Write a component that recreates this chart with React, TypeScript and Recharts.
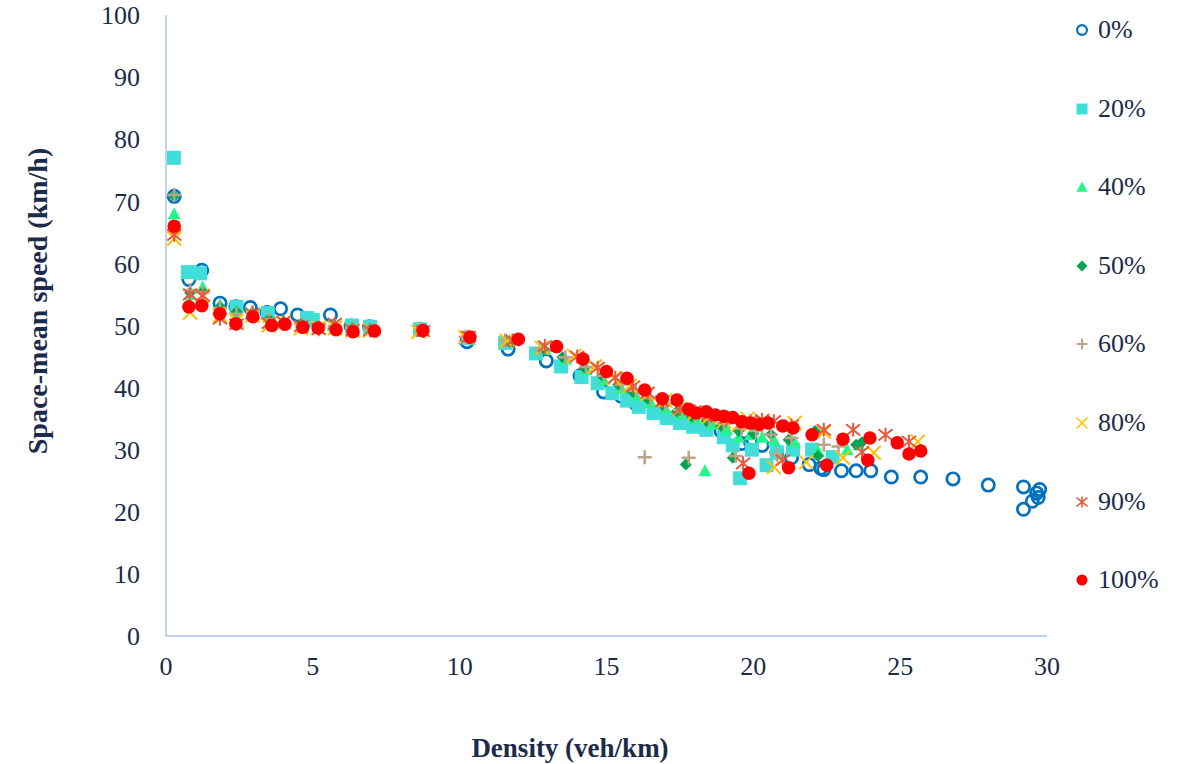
import React from 'react';
import { ScatterChart, Scatter, XAxis, YAxis, Label } from 'recharts';

type Pt = [number, number];

const xTicks = [0, 5, 10, 15, 20, 25, 30];
const yTicks = [0, 10, 20, 30, 40, 50, 60, 70, 80, 90, 100];

// density (veh/km), speed (km/h)
const pen0: Pt[] = [
  [0.28, 70.8], [0.78, 57.4], [1.22, 58.9], [1.84, 53.6], [2.38, 53], [2.87, 52.9], [3.44, 52.1],
  [3.9, 52.7], [4.48, 51.7], [5.6, 51.7], [6.3, 49.9], [6.93, 49.8], [8.7, 49.3], [10.25, 47.4],
  [11.65, 46.2], [12.95, 44.3], [14.1, 41.9], [14.9, 39.3], [15.5, 38.6], [16.0, 37.4], [16.8, 36],
  [17.5, 35], [18.2, 34], [18.9, 33], [19.6, 31], [19.9, 31.3], [20.3, 30.7], [20.8, 29.6],
  [21.3, 28.7], [21.9, 27.6], [22.3, 27], [22.4, 26.8], [23.0, 26.6], [23.5, 26.6], [24.0, 26.6],
  [24.7, 25.6], [25.7, 25.6], [26.8, 25.3], [28.0, 24.3], [29.2, 24.0], [29.75, 23.6], [29.7, 22.3],
  [29.5, 21.7], [29.2, 20.4], [29.65, 23.0],
];

const pen20: Pt[] = [
  [0.27, 77], [0.75, 58.6], [1.16, 58.4], [2.4, 53], [3.47, 52], [4.8, 51.2], [5.0, 50.9],
  [6.33, 50], [6.95, 49.8], [8.65, 49.4], [10.3, 48], [11.55, 47.2], [12.6, 45.5], [13.45, 43.4],
  [14.15, 41.7], [14.7, 40.7], [15.2, 39.1], [15.7, 37.9], [16.1, 36.9], [16.6, 35.9], [17.05, 35.1],
  [17.5, 34.3], [17.95, 33.7], [18.4, 33.2], [19.0, 32], [19.3, 30.7], [19.55, 25.4], [19.95, 30],
  [20.45, 27.5], [20.8, 29.6], [21.35, 30], [22.0, 30], [22.7, 28.8],
];

const pen40: Pt[] = [
  [0.28, 68], [0.82, 55], [1.25, 56.2], [1.84, 53.4], [2.4, 52.3], [2.9, 52], [3.5, 51.3],
  [4.0, 50.8], [4.6, 50.4], [5.2, 50], [5.7, 50], [6.3, 49.7], [6.95, 49.6], [8.65, 49.7],
  [10.3, 48.2], [11.7, 47.6], [12.9, 46.2], [13.6, 44.6], [14.3, 42.9], [14.9, 41.3], [15.5, 39.9],
  [16.0, 38.8], [16.5, 37.6], [17.0, 36.7], [17.5, 35.8], [18.0, 35], [18.35, 26.6], [18.6, 34.1],
  [19.1, 33.2], [19.5, 32], [19.9, 32.4], [20.3, 32], [20.7, 31.6], [21.4, 31.3], [22.2, 29.8],
  [23.2, 30], [23.6, 30.8],
];

const pen50: Pt[] = [
  [0.28, 70.8], [0.82, 55.3], [1.25, 55.4], [1.84, 53], [2.4, 52.2], [2.95, 52], [3.5, 51],
  [4.0, 50.6], [4.6, 50.3], [5.2, 49.9], [5.75, 49.8], [6.35, 49.5], [6.95, 49.4], [8.7, 49.3],
  [10.3, 48], [11.7, 47.4], [12.85, 46.2], [13.5, 44.9], [14.25, 43.2], [14.85, 41.9], [15.4, 40.5],
  [15.9, 39.3], [16.4, 38.2], [16.9, 37.2], [17.4, 36.2], [17.7, 27.6], [17.9, 35.3], [18.4, 34.6],
  [18.9, 33.8], [19.3, 28.7], [19.5, 33], [20.0, 32.6], [20.6, 32.5], [21.2, 31.6], [22.1, 33],
  [22.2, 29], [23.5, 30.8], [23.7, 31.2],
];

const pen60: Pt[] = [
  [0.28, 71], [0.82, 55.7], [1.25, 55.3], [1.84, 52.8], [2.4, 51.9], [2.95, 52.2], [3.5, 51],
  [4.0, 50.3], [4.6, 50.2], [5.2, 49.7], [5.75, 49.9], [6.35, 49.6], [6.95, 49.3], [8.65, 49.4],
  [10.2, 48.2], [11.55, 47.6], [12.75, 46.3], [13.6, 44.9], [14.3, 43.3], [14.9, 41.9], [15.5, 40.5],
  [16.0, 39.5], [16.3, 28.8], [16.5, 38.3], [17.0, 37.4], [17.5, 36.4], [17.8, 28.7], [18.0, 35.6],
  [18.5, 34.9], [19.0, 34.2], [19.4, 29], [19.6, 33.4], [20.1, 33], [20.6, 32.4], [20.8, 29.2],
  [21.3, 31.9], [22.4, 30.8], [22.9, 30.5],
];

const pen80: Pt[] = [
  [0.28, 64], [0.82, 52.1], [1.25, 54.8], [1.84, 51.6], [2.4, 50.8], [2.95, 51.6], [3.5, 50],
  [4.0, 50.5], [4.6, 49.6], [5.2, 49.6], [5.75, 49.6], [6.35, 49.2], [6.95, 49.2], [8.6, 49],
  [10.2, 48.1], [11.6, 47.5], [12.8, 46.4], [13.9, 45.1], [14.6, 43.4], [15.25, 41.5], [15.8, 40.3],
  [16.4, 39], [17.0, 37.9], [17.5, 36.6], [18.0, 35.9], [18.5, 35.3], [19.0, 34.6], [19.5, 34.1],
  [19.8, 35], [20.3, 34.6], [20.7, 27.2], [21.4, 34.3], [21.8, 28], [22.4, 32.9], [23.05, 28.7],
  [24.1, 29.5], [25.6, 31.3],
];

const pen90: Pt[] = [
  [0.28, 64.6], [0.82, 55], [1.25, 54.8], [1.84, 51.1], [2.4, 50.2], [2.95, 51.9], [3.5, 50.4],
  [4.0, 50.6], [4.6, 49.9], [5.2, 49.4], [5.75, 50.3], [6.35, 49.3], [6.95, 49.2], [8.75, 49.1],
  [10.3, 48.2], [11.8, 47.6], [12.9, 46.7], [14.0, 45], [14.7, 43.2], [15.3, 41.6], [15.9, 40.2],
  [16.4, 39.2], [16.9, 37.8], [17.5, 36.6], [18.0, 36.2], [18.5, 35.6], [19.1, 35.1], [19.65, 27.8],
  [19.9, 34.6], [20.3, 34.8], [20.7, 34.6], [21.0, 28.3], [21.3, 33.9], [22.4, 33.2], [23.4, 33.2],
  [23.7, 29.6], [24.5, 32.4], [25.3, 31.3],
];

const pen100: Pt[] = [
  [0.28, 66], [0.78, 53], [1.22, 53.2], [1.83, 51.9], [2.38, 50.3], [2.96, 51.4], [3.6, 50],
  [4.05, 50.2], [4.66, 49.7], [5.18, 49.6], [5.79, 49.3], [6.37, 49], [7.1, 49.1], [8.75, 49.2],
  [10.35, 48.1], [12.0, 47.8], [13.3, 46.6], [14.2, 44.6], [15.0, 42.6], [15.7, 41.5], [16.3, 39.6],
  [16.9, 38.2], [17.4, 38], [17.8, 36.5], [18.05, 35.9], [18.4, 36.1], [18.7, 35.6], [19.0, 35.4],
  [19.3, 35.2], [19.6, 34.5], [19.9, 34.3], [20.2, 34.1], [20.5, 34.3], [21.0, 33.8], [21.35, 33.5],
  [22.0, 32.4], [23.05, 31.7], [23.97, 31.9], [24.9, 31.1], [25.3, 29.3], [25.7, 29.8],
  [19.85, 26.2], [21.2, 27.1], [22.5, 27.5], [23.9, 28.3],
];

const ink = '#1c2b4a';
const font = '"Liberation Serif", "Times New Roman", serif';
const axisBlue = '#a7c5f2';

type Kind = 'circle' | 'square' | 'triangle' | 'diamond' | 'plus' | 'cross' | 'star' | 'dot';

const series: { name: string; kind: Kind; color: string; data: Pt[] }[] = [
  { name: '0%', kind: 'circle', color: '#0070C0', data: pen0 },
  { name: '20%', kind: 'square', color: '#40DED8', data: pen20 },
  { name: '40%', kind: 'triangle', color: '#22F88A', data: pen40 },
  { name: '50%', kind: 'diamond', color: '#00A651', data: pen50 },
  { name: '60%', kind: 'plus', color: '#BCA488', data: pen60 },
  { name: '80%', kind: 'cross', color: '#FFC000', data: pen80 },
  { name: '90%', kind: 'star', color: '#E8583E', data: pen90 },
  { name: '100%', kind: 'dot', color: '#FF0000', data: pen100 },
];

const plotSize: Record<Kind, number> = {
  circle: 15, square: 14, triangle: 13, diamond: 12, plus: 14, cross: 14, star: 14, dot: 13.5,
};

const Marker = ({ kind, color, cx, cy, s }: { kind: Kind; color: string; cx: number; cy: number; s: number }) => {
  const h = s / 2;
  switch (kind) {
    case 'circle':
      return <circle cx={cx} cy={cy} r={h - s * 0.09} fill="none" stroke={color} strokeWidth={s * 0.18} />;
    case 'square':
      return <rect x={cx - h} y={cy - h} width={s} height={s} fill={color} />;
    case 'triangle':
      return <path d={`M${cx},${cy - h}L${cx + h},${cy + h * 0.85}L${cx - h},${cy + h * 0.85}Z`} fill={color} />;
    case 'diamond':
      return <path d={`M${cx},${cy - h}L${cx + h},${cy}L${cx},${cy + h}L${cx - h},${cy}Z`} fill={color} />;
    case 'plus':
      return (
        <path d={`M${cx - h},${cy}H${cx + h}M${cx},${cy - h}V${cy + h}`} stroke={color} strokeWidth={s * 0.18} />
      );
    case 'cross':
      return (
        <path
          d={`M${cx - h},${cy - h}L${cx + h},${cy + h}M${cx - h},${cy + h}L${cx + h},${cy - h}`}
          stroke={color}
          strokeWidth={s * 0.14}
        />
      );
    case 'star':
      return (
        <path
          d={`M${cx - h},${cy - h * 0.8}L${cx + h},${cy + h * 0.8}M${cx - h},${cy + h * 0.8}L${cx + h},${cy - h * 0.8}M${cx},${cy - h}V${cy + h}`}
          stroke={color}
          strokeWidth={s * 0.14}
        />
      );
    default:
      return <circle cx={cx} cy={cy} r={h} fill={color} />;
  }
};

const XTitle = () => (
  <text x={570} y={748} textAnchor="middle" dominantBaseline="central" fill={ink}
    style={{ fontFamily: font, fontSize: 27, fontWeight: 700 }}>
    Density (veh/km)
  </text>
);

const tickStyle = { fill: ink, fontSize: 26, fontFamily: font };

const App = () => (
  <div style={{ position: 'absolute', left: 0, top: 0, width: 1184, height: 764, background: '#fff' }}>
    <ScatterChart width={1184} height={764} margin={{ top: 15, right: 137, bottom: 98, left: 106 }}>
      <XAxis type="number" dataKey="x" domain={[0, 30]} ticks={xTicks} interval={0} height={30}
        tick={tickStyle} tickLine={false} tickSize={0} tickMargin={21}
        axisLine={{ stroke: axisBlue, strokeWidth: 1.5 }}>
        <Label content={<XTitle />} />
      </XAxis>
      <YAxis type="number" dataKey="y" domain={[0, 100]} ticks={yTicks} interval={0} width={60}
        tick={tickStyle} tickLine={false} tickSize={0} tickMargin={26}
        axisLine={{ stroke: axisBlue, strokeWidth: 1.5 }} />
      {series.map((sr) => (
        <Scatter
          key={sr.name}
          name={sr.name}
          data={sr.data.map(([x, y]) => ({ x, y }))}
          isAnimationActive={false}
          shape={(p: any) => <Marker kind={sr.kind} color={sr.color} cx={p.cx} cy={p.cy} s={plotSize[sr.kind]} />}
        />
      ))}
    </ScatterChart>
    <div style={{
      position: 'absolute', left: 24, top: 301, transform: 'translate(-50%, -50%) rotate(-90deg)',
      whiteSpace: 'nowrap', fontFamily: font, fontSize: 28, fontWeight: 700, color: ink, lineHeight: '30px',
      marginLeft: 14,
    }}>
      Space-mean speed (km/h)
    </div>
    <div style={{ position: 'absolute', left: 1072, top: 14, display: 'flex', flexDirection: 'column', gap: 46.6 }}>
      {series.map((sr) => (
        <div key={sr.name} style={{ display: 'flex', alignItems: 'center', height: 32 }}>
          <svg width={20} height={20} style={{ marginRight: 6 }}>
            <Marker kind={sr.kind} color={sr.color} cx={10} cy={10} s={sr.kind === 'circle' ? 12 : 11} />
          </svg>
          <span style={{ fontFamily: font, fontSize: 26, color: ink, lineHeight: '32px' }}>{sr.name}</span>
        </div>
      ))}
    </div>
  </div>
);

export default App;
